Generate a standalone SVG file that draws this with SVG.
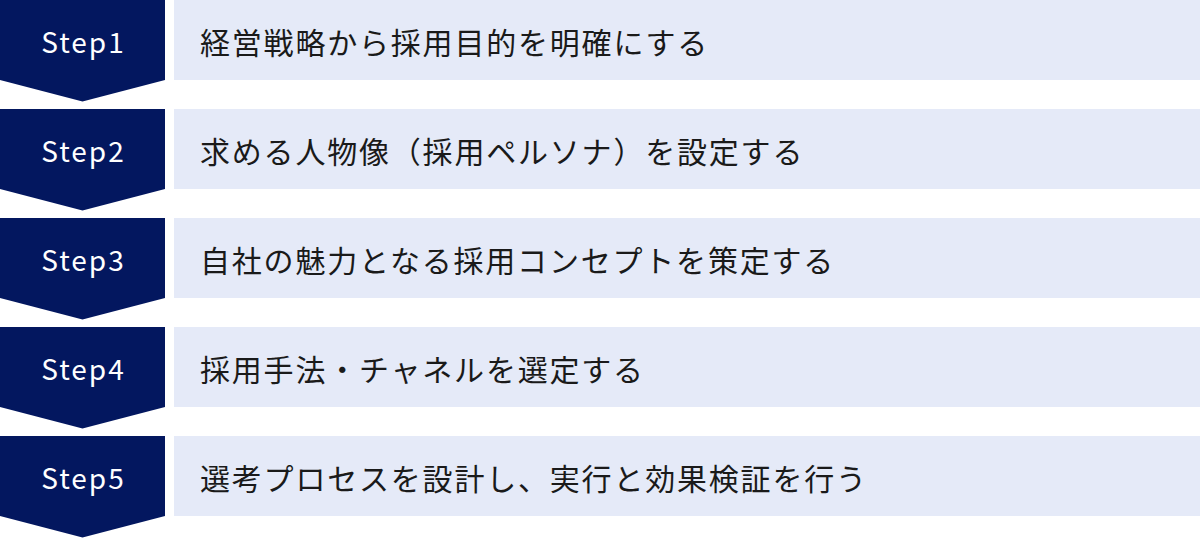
<svg xmlns="http://www.w3.org/2000/svg" width="1200" height="538" viewBox="0 0 1200 538">
<style>
.chev{fill:#03175f}
.bar{fill:#e5eaf8}
.step{font-family:"Noto Sans CJK JP","Noto Sans",sans-serif;font-size:28px;fill:#ffffff;text-anchor:middle;letter-spacing:2px}
.lbl{font-family:"Noto Sans CJK JP","Noto Sans",sans-serif;font-size:30px;fill:#1a1a1a;letter-spacing:1.8px}
</style>
<rect width="1200" height="538" fill="#ffffff"/>
<g id="step1">
<polygon class="chev" points="0,0 165,0 165,80 82.5,101.5 0,80"/>
<rect class="bar" x="174" y="0" width="1026" height="80"/>
<text class="step" x="83.5" y="52.5">Step1</text>
<text class="lbl" x="200" y="53.5">経営戦略から採用目的を明確にする</text>
</g>
<g id="step2">
<polygon class="chev" points="0,109 165,109 165,189 82.5,210.5 0,189"/>
<rect class="bar" x="174" y="109" width="1026" height="80"/>
<text class="step" x="83.5" y="161.5">Step2</text>
<text class="lbl" x="200" y="162.5">求める人物像（採用ペルソナ）を設定する</text>
</g>
<g id="step3">
<polygon class="chev" points="0,218 165,218 165,298 82.5,319.5 0,298"/>
<rect class="bar" x="174" y="218" width="1026" height="80"/>
<text class="step" x="83.5" y="270.5">Step3</text>
<text class="lbl" x="200" y="271.5">自社の魅力となる採用コンセプトを策定する</text>
</g>
<g id="step4">
<polygon class="chev" points="0,327 165,327 165,407 82.5,428.5 0,407"/>
<rect class="bar" x="174" y="327" width="1026" height="80"/>
<text class="step" x="83.5" y="379.5">Step4</text>
<text class="lbl" x="200" y="380.5">採用手法・チャネルを選定する</text>
</g>
<g id="step5">
<polygon class="chev" points="0,436 165,436 165,516 82.5,537.5 0,516"/>
<rect class="bar" x="174" y="436" width="1026" height="80"/>
<text class="step" x="83.5" y="488.5">Step5</text>
<text class="lbl" x="200" y="489.5">選考プロセスを設計し、実行と効果検証を行う</text>
</g>
<g id="connectors"></g>
</svg>
